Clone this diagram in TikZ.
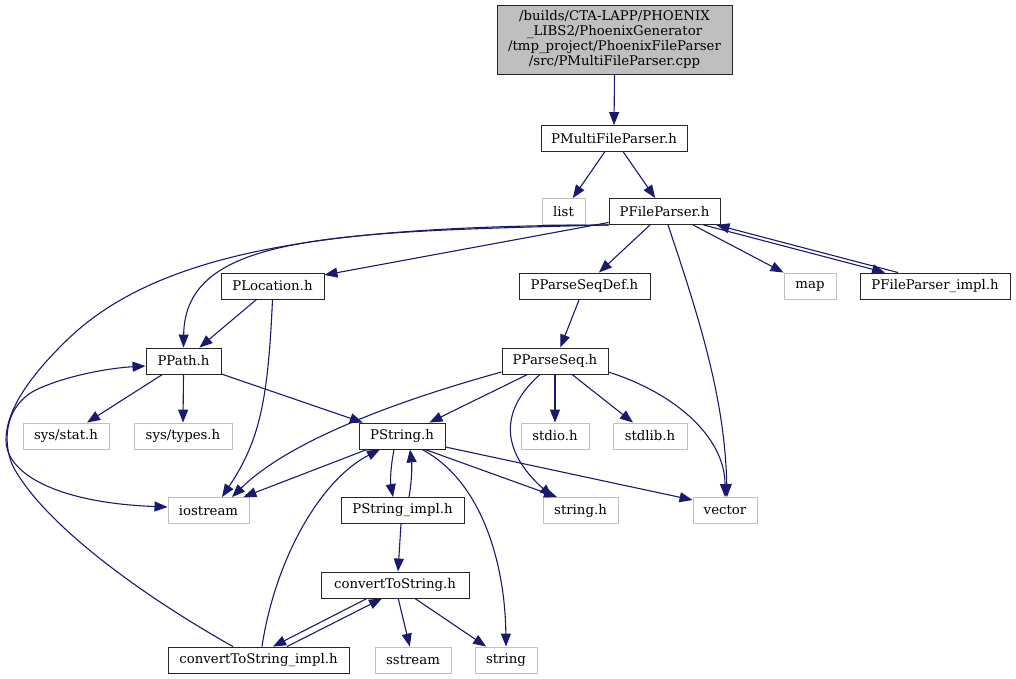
\documentclass[tikz,border=0pt]{standalone}
\usepackage{fontspec}
\setmainfont{DejaVu Serif}
\usetikzlibrary{arrows.meta}
\definecolor{edgeblue}{HTML}{191970}
\definecolor{extgray}{HTML}{BFBFBF}
\definecolor{rootfill}{HTML}{BFBFBF}
\tikzset{
  box/.style={draw=black!85, line width=0.9pt, fill=white, minimum height=26pt, inner sep=0pt, font=\fontsize{13.3}{15}\selectfont},
  extbox/.style={box, draw=extgray},
  rootbox/.style={draw=black!85, line width=0.9pt, fill=rootfill, minimum height=69pt, minimum width=235pt, inner sep=0pt, align=center, font=\fontsize{13.3}{14.8}\selectfont},
  dep/.style={draw=edgeblue, line width=1.1pt, -{Triangle[length=13pt,width=10pt]}},
}
\begin{document}
\begin{tikzpicture}[x=1pt,y=-1pt]
\useasboundingbox (0,0) rectangle (1016,679);
% nodes
\node[rootbox] (root) at (614.5,39.5) {/builds/CTA-LAPP/PHOENIX\\\_LIBS2/PhoenixGenerator\\/tmp\_project/PhoenixFileParser\\/src/PMultiFileParser.cpp};
\node[box, minimum width=146pt] (PMFP) at (614,138.5) {PMultiFileParser.h};
\node[extbox, minimum width=43pt] (list) at (563.5,211.5) {list};
\node[box, minimum width=111pt] (PFP) at (664.5,211.5) {PFileParser.h};
\node[box, minimum width=103pt] (PLoc) at (272.5,286) {PLocation.h};
\node[box, minimum width=131pt] (PPSD) at (584.5,286) {PParseSeqDef.h};
\node[extbox, minimum width=52pt] (map) at (810,286) {map};
\node[box, minimum width=150pt] (PFPi) at (935,286) {PFileParser\_impl.h};
\node[box, minimum width=75pt] (PPath) at (183.5,361) {PPath.h};
\node[box, minimum width=106pt] (PPS) at (555,361) {PParseSeq.h};
\node[extbox, minimum width=86pt] (sysstat) at (66,436) {sys/stat.h};
\node[extbox, minimum width=98pt] (systypes) at (183,436) {sys/types.h};
\node[box, minimum width=86pt] (PString) at (402,436) {PString.h};
\node[extbox, minimum width=68pt] (stdio) at (555,436) {stdio.h};
\node[extbox, minimum width=74pt] (stdlib) at (650,436) {stdlib.h};
\node[extbox, minimum width=81pt] (iostream) at (208.5,510.5) {iostream};
\node[box, minimum width=123pt] (PSi) at (402.5,510.5) {PString\_impl.h};
\node[extbox, minimum width=75pt] (stringh) at (580.5,510.5) {string.h};
\node[extbox, minimum width=64pt] (vector) at (725,510.5) {vector};
\node[box, minimum width=148pt] (cts) at (395,585) {convertToString.h};
\node[box, minimum width=181pt] (ctsi) at (258.5,660) {convertToString\_impl.h};
\node[extbox, minimum width=76pt] (sstream) at (413,660) {sstream};
\node[extbox, minimum width=62pt] (string) at (506,660) {string};
% edges
\draw[dep] (root.south) -- (PMFP.north);
\draw[dep] (PMFP) -- (list);
\draw[dep] (PMFP) -- (PFP);
\draw[dep] ([yshift=-11pt]PFP.west) -- ([yshift=11pt]PLoc.east);
\draw[dep] (PFP.south west) .. controls (330,232) and (185,235) .. (PPath.north);
\draw[dep] (PFP.south west) .. controls (330,226) and (160,250) .. (67,340)
  .. controls (30,376) and (6,410) .. (6,440)
  .. controls (6,475) and (60,503) .. ([yshift=3.5pt]iostream.west);
\draw[dep] ([xshift=-25.5pt]ctsi.north) .. controls (150,600) and (50,530) .. (15,470)
  .. controls (3,450) and (0,405) .. (40,388)
  .. controls (70,375) and (110,368) .. ([yshift=-5pt]PPath.west);
\draw[dep] (PLoc) -- (PPath);
\draw[dep] (PLoc.south) .. controls (268,400) and (260,440) .. ([xshift=13.5pt]iostream.north);
\draw[dep] (PFP) -- (PPSD);
\draw[dep] ([xshift=28.5pt]PFP.south) -- (map.north west);
\draw[dep] ([xshift=-17pt]PFP.south east) -- ([xshift=-50pt]PFPi.north);
\draw[dep] ([xshift=-37pt]PFPi.north) -- ([xshift=-4pt]PFP.south east);
\draw[dep] ([xshift=3.5pt]PFP.south) .. controls (700,320) and (725,400) .. ([xshift=2pt]vector.north);
\draw[dep] (PPSD) -- (PPS);
\draw[dep] (PPath) -- (sysstat);
\draw[dep] (PPath.south) -- (systypes.north);
\draw[dep] (PPath) -- (PString);
\draw[dep] (PPS) -- (PString);
\draw[dep] ([yshift=-11pt]PPS.west) .. controls (400,400) and (290,440) .. ([xshift=23.5pt]iostream.north);
\draw[dep] ([xshift=-15pt]PPS.south) .. controls (500,410) and (500,450) .. ([xshift=-28pt]stringh.north);
\draw[dep] (PPS.south) -- (stdio.north);
\draw[dep] (PPS) -- (stdlib);
\draw[dep] ([yshift=-11pt]PPS.east) .. controls (680,395) and (725,440) .. (vector.north);
\draw[dep] (PString) -- (iostream);
\draw[dep] ([xshift=-8pt]PString.south) .. controls (391,465) and (390,480) .. ([xshift=-9.5pt]PSi.north);
\draw[dep] ([xshift=6.5pt]PSi.north) .. controls (412,480) and (412,465) .. ([xshift=8pt]PString.south);
\draw[dep] ([xshift=23pt]PString.south) -- ([xshift=-23.5pt]stringh.north);
\draw[dep] ([yshift=-11pt]PString.east) -- ([yshift=10.5pt]vector.west);
\draw[dep] ([xshift=20pt]PString.south) .. controls (480,480) and (505,560) .. (string.north);
\draw[dep] ([xshift=-1.5pt]PSi.south) -- ([xshift=3pt]cts.north);
\draw[dep] ([xshift=-28pt]cts.south) -- ([xshift=14.5pt]ctsi.north);
\draw[dep] ([xshift=28.5pt]ctsi.north) -- ([xshift=-13pt]cts.south);
\draw[dep] (cts) -- (sstream);
\draw[dep] (cts) -- (string);
\draw[dep] ([xshift=3.5pt]ctsi.north) .. controls (275,560) and (320,480) .. ([xshift=-22pt]PString.south);
\end{tikzpicture}
\end{document}
